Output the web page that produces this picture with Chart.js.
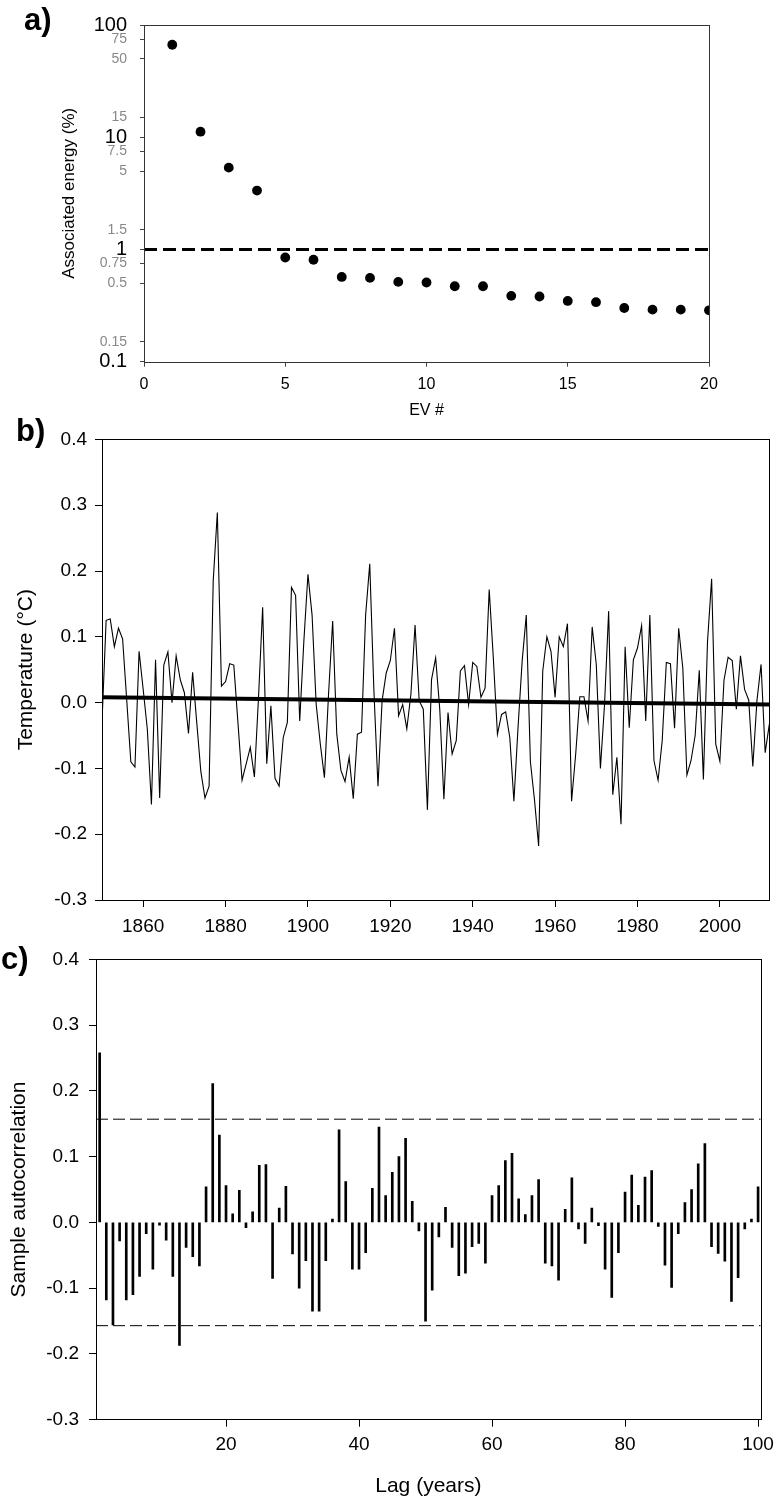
<!DOCTYPE html>
<html>
<head>
<meta charset="utf-8">
<title>EV energy, temperature and autocorrelation</title>
<script src="https://cdn.jsdelivr.net/npm/chart.js@4.4.1/dist/chart.umd.min.js"></script>
<style>
  body { margin: 0; background: #fff; }
  #page { position: relative; width: 781px; height: 1501px; overflow: hidden; font-family: "Liberation Sans", Arial, sans-serif; }
  .panel { position: absolute; left: 0; width: 781px; }
  .tag { position: absolute; font-weight: bold; font-size: 31px; line-height: 30px; color: #000; }
</style>
</head>
<body>
<div id="page">
  <div class="panel" style="top:0;height:420px"><canvas id="energyChart"></canvas></div>
  <div class="panel" style="top:420px;height:518px"><canvas id="tempChart"></canvas></div>
  <div class="panel" style="top:938px;height:563px"><canvas id="acfChart"></canvas></div>
  <div class="tag" style="left:24px;top:5px">a)</div>
  <div class="tag" style="left:16px;top:416px">b)</div>
  <div class="tag" style="left:1px;top:944px">c)</div>
</div>
<script>
// ---- data ----
// a) energy of each eigenvector (%)
const evNumbers = [1, 2, 3, 4, 5, 6, 7, 8, 9, 10, 11, 12, 13, 14, 15, 16, 17, 18, 19, 20];
const evEnergy = [66.7, 11.2, 5.36, 3.35, 0.848, 0.81, 0.569, 0.558, 0.514, 0.508,
                  0.47, 0.47, 0.386, 0.381, 0.348, 0.339, 0.301, 0.291, 0.291, 0.287];
const energyTickValues = [0.1, 0.15, 0.5, 0.75, 1, 1.5, 5, 7.5, 10, 15, 50, 75, 100];
const energyMajorTicks = [0.1, 1, 10, 100];
const cutoffEnergy = 1;

// b) temperature series, 1850-2012
const firstYear = 1850;
const tempValues = [
  -0.03, 0.125, 0.127, 0.085, 0.113, 0.097, 0.004, -0.09, -0.098, 0.078,
  0.02, -0.04, -0.155, 0.065, -0.145, 0.057, 0.077, 0.0, 0.071, 0.035,
  0.015, -0.047, 0.046, -0.03, -0.105, -0.145, -0.127, 0.185, 0.289, 0.025,
  0.032, 0.059, 0.057, -0.03, -0.118, -0.093, -0.068, -0.113, 0.008, 0.145,
  -0.093, -0.005, -0.115, -0.127, -0.053, -0.03, 0.175, 0.163, -0.028, 0.093,
  0.195, 0.133, -0.003, -0.063, -0.114, 0.013, 0.124, -0.048, -0.103, -0.12,
  -0.083, -0.146, -0.048, -0.045, 0.133, 0.211, 0.02, -0.127, 0.003, 0.045,
  0.064, 0.113, -0.02, -0.003, -0.04, 0.013, 0.118, 0.003, -0.01, -0.163,
  0.035, 0.068, -0.01, -0.147, -0.015, -0.078, -0.058, 0.048, 0.056, -0.003,
  0.061, 0.055, 0.008, 0.022, 0.172, 0.068, -0.048, -0.018, -0.014, -0.053,
  -0.15, -0.038, 0.063, 0.133, -0.09, -0.148, -0.218, 0.048, 0.1, 0.078,
  0.008, 0.1, 0.085, 0.12, -0.15, -0.078, 0.009, 0.009, -0.028, 0.115,
  0.058, -0.1, -0.003, 0.139, -0.14, -0.083, -0.185, 0.085, -0.038, 0.065,
  0.083, 0.117, -0.028, 0.133, -0.088, -0.118, -0.058, 0.061, 0.059, -0.039,
  0.113, 0.053, -0.11, -0.088, -0.05, 0.049, -0.117, 0.093, 0.188, -0.063,
  -0.089, 0.034, 0.069, 0.064, -0.01, 0.071, 0.02, 0.004, -0.097, 0.003,
  0.058, -0.076, -0.033
];
const trendYears = [1850, 2012];
const trendValues = [0.008, -0.003];
const yearTicks = [1860, 1880, 1900, 1920, 1940, 1960, 1980, 2000];

// c) sample autocorrelation, lags 1-100
const acfValues = [
  0.258, -0.118, -0.156, -0.028, -0.118, -0.11, -0.082, -0.017, -0.071, -0.004,
  -0.027, -0.082, -0.187, -0.038, -0.052, -0.066, 0.054, 0.211, 0.133, 0.056,
  0.013, 0.049, -0.008, 0.016, 0.087, 0.088, -0.085, 0.022, 0.055, -0.048,
  -0.1, -0.058, -0.135, -0.135, -0.058, 0.005, 0.141, 0.062, -0.071, -0.071,
  -0.046, 0.052, 0.145, 0.041, 0.076, 0.1, 0.128, 0.032, -0.013, -0.15,
  -0.103, -0.022, 0.023, -0.038, -0.081, -0.077, -0.037, -0.032, -0.062, 0.041,
  0.056, 0.094, 0.105, 0.036, 0.012, 0.041, 0.065, -0.062, -0.066, -0.088,
  0.02, 0.068, -0.01, -0.032, 0.022, -0.005, -0.071, -0.114, -0.046, 0.046,
  0.072, 0.026, 0.069, 0.079, -0.006, -0.065, -0.099, -0.017, 0.03, 0.05,
  0.089, 0.12, -0.037, -0.047, -0.059, -0.12, -0.084, -0.01, 0.005, 0.054
];
const confLimit = 0.157;
const lagTicks = [20, 40, 60, 80, 100];
const valueTicks = [-0.3, -0.2, -0.1, 0.0, 0.1, 0.2, 0.3, 0.4];

// ---- shared settings ----
Chart.defaults.font.family = '"Liberation Sans", Arial, sans-serif';
Chart.defaults.color = '#000';
Chart.defaults.animation = false;
Chart.defaults.plugins.legend.display = false;
Chart.defaults.plugins.tooltip.enabled = false;

// box round the plot area
const framePlugin = {
  id: 'frame',
  afterDraw(chart, args, opts) {
    const a = chart.chartArea;
    const c = chart.ctx;
    c.save();
    c.strokeStyle = opts.color || '#000';
    c.lineWidth = 1;
    c.strokeRect(Math.round(a.left) + 0.5, Math.round(a.top) + 0.5,
                 Math.round(a.right - a.left), Math.round(a.bottom - a.top));
    c.restore();
  }
};

function fixedTicks(values) {
  return function (scale) {
    scale.ticks = values.map(v => ({ value: v }));
  };
}

// ---- a) associated energy ----
const energyPoints = evNumbers.map((n, i) => ({ x: n, y: evEnergy[i] }));
new Chart(document.getElementById('energyChart').getContext('2d'), {
  type: 'scatter',
  data: {
    datasets: [{
      data: energyPoints,
      backgroundColor: '#000',
      borderWidth: 0,
      pointRadius: 4.9
    }, {
      data: [{ x: 0, y: cutoffEnergy }, { x: 20, y: cutoffEnergy }],
      showLine: true,
      borderColor: '#000',
      borderWidth: 3,
      borderDash: [13, 6],
      pointRadius: 0
    }]
  },
  options: {
    responsive: true,
    maintainAspectRatio: false,
    layout: { padding: { top: 11, right: 72, left: 0, bottom: 0 } },
    scales: {
      x: {
        type: 'linear', min: 0, max: 20,
        ticks: { stepSize: 5, padding: 8, font: { size: 16 } },
        grid: { drawOnChartArea: false, tickLength: 5, color: '#444' },
        border: { display: false },
        title: { display: true, text: 'EV #', font: { size: 16 }, padding: { top: 0, bottom: 0 } },
        afterFit: (s) => { s.height = 58.3; }
      },
      y: {
        type: 'logarithmic', min: 0.1, max: 100,
        afterBuildTicks: fixedTicks(energyTickValues),
        afterFit: (s) => { s.width = 144; },
        ticks: {
          autoSkip: false,
          padding: 13,
          callback: (v) => String(v),
          color: (c) => energyMajorTicks.includes(c.tick.value) ? '#000' : '#888',
          font: (c) => energyMajorTicks.includes(c.tick.value) ? { size: 20 } : { size: 14 }
        },
        grid: { drawOnChartArea: false, tickLength: 4, color: '#444' },
        border: { display: false },
        title: { display: true, text: 'Associated energy (%)', font: { size: 17 }, padding: { top: 59, bottom: 0 } }
      }
    },
    plugins: { frame: { color: '#333' } }
  },
  plugins: [framePlugin]
});

// ---- b) temperature ----
const tempPoints = tempValues.map((v, i) => ({ x: firstYear + i, y: v }));
const trendPoints = trendYears.map((y, i) => ({ x: y, y: trendValues[i] }));
new Chart(document.getElementById('tempChart').getContext('2d'), {
  type: 'line',
  data: {
    datasets: [{
      data: tempPoints,
      borderColor: '#000',
      borderWidth: 1.1,
      pointRadius: 0,
      tension: 0
    }, {
      data: trendPoints,
      borderColor: '#000',
      borderWidth: 4,
      pointRadius: 0
    }]
  },
  options: {
    responsive: true,
    maintainAspectRatio: false,
    layout: { padding: { top: 14, right: 11.7, left: 0, bottom: 0 } },
    scales: {
      x: {
        type: 'linear', min: 1850, max: 2012,
        afterBuildTicks: fixedTicks(yearTicks),
        afterFit: (s) => { s.height = 38; },
        ticks: { padding: 8.5, font: { size: 19 }, callback: (v) => String(v) },
        grid: { drawOnChartArea: false, tickLength: 7, color: '#000' },
        border: { display: false }
      },
      y: {
        min: -0.3, max: 0.4,
        afterBuildTicks: fixedTicks(valueTicks),
        afterFit: (s) => { s.width = 102; },
        ticks: { padding: 8, font: { size: 19 }, callback: (v) => v.toFixed(1) },
        grid: { drawOnChartArea: false, tickLength: 7, color: '#000' },
        border: { display: false },
        title: { display: true, text: 'Temperature (°C)', font: { size: 21 }, padding: { top: 14, bottom: 0 } }
      }
    }
  },
  plugins: [framePlugin]
});

// ---- c) autocorrelation ----
const acfPoints = acfValues.map((v, i) => ({ x: i + 1, y: v }));
new Chart(document.getElementById('acfChart').getContext('2d'), {
  type: 'bar',
  data: {
    datasets: [{
      data: acfPoints,
      backgroundColor: '#000',
      barThickness: 2
    }, {
      type: 'line',
      data: [{ x: 0.45, y: confLimit }, { x: 100.4, y: confLimit }],
      borderColor: '#000',
      borderWidth: 1,
      borderDash: [12, 5],
      pointRadius: 0
    }, {
      type: 'line',
      data: [{ x: 0.45, y: -confLimit }, { x: 100.4, y: -confLimit }],
      borderColor: '#000',
      borderWidth: 1,
      borderDash: [12, 5],
      pointRadius: 0
    }]
  },
  options: {
    responsive: true,
    maintainAspectRatio: false,
    layout: { padding: { top: 15, right: 18.3, left: 0, bottom: 0 } },
    scales: {
      x: {
        type: 'linear', min: 0.45, max: 100.4,
        offset: false,
        afterBuildTicks: fixedTicks(lagTicks),
        afterFit: (s) => { s.height = 81.3; },
        ticks: { padding: 7, font: { size: 19 }, callback: (v) => String(v) },
        grid: { offset: false, drawOnChartArea: false, tickLength: 7, color: '#000' },
        border: { display: false },
        title: { display: true, text: 'Lag (years)', font: { size: 21 }, padding: { top: 0, bottom: 2 } }
      },
      y: {
        min: -0.3, max: 0.4,
        afterBuildTicks: fixedTicks(valueTicks),
        afterFit: (s) => { s.width = 96; },
        ticks: { padding: 10, font: { size: 19 }, callback: (v) => v.toFixed(1) },
        grid: { drawOnChartArea: false, tickLength: 7, color: '#000' },
        border: { display: false },
        title: { display: true, text: 'Sample autocorrelation', font: { size: 21 }, padding: { top: 7, bottom: 0 } }
      }
    }
  },
  plugins: [framePlugin]
});
</script>
</body>
</html>
